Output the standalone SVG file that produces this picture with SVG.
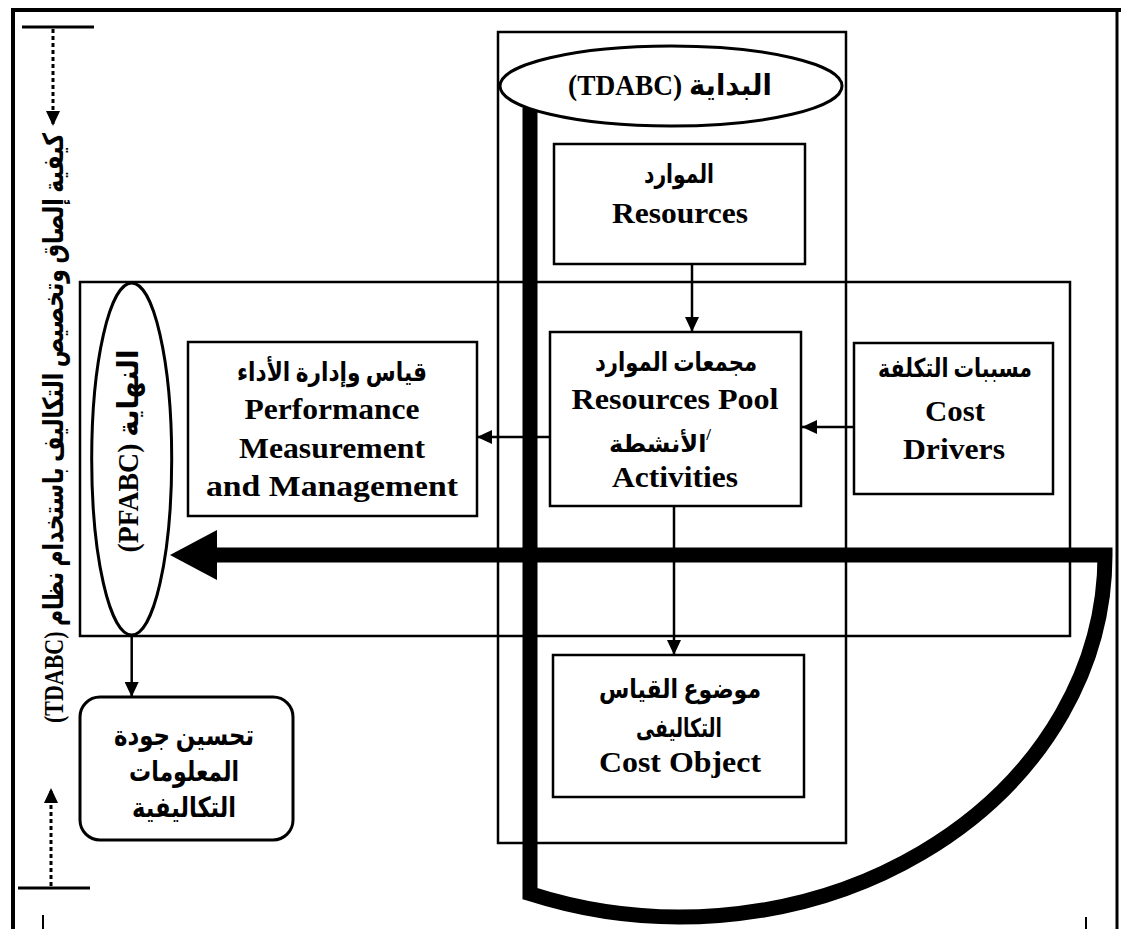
<svg xmlns="http://www.w3.org/2000/svg" width="1121" height="929" viewBox="0 0 1121 929">
<defs>
<style>
.frame{fill:none;stroke:#000;stroke-width:2.5}
.box{fill:#fff;stroke:#000;stroke-width:2.5}
.oval{fill:#fff;stroke:#000;stroke-width:3}
.t{font-family:"Liberation Serif","DejaVu Sans",serif;font-weight:bold;font-size:30px;text-anchor:middle;fill:#000}
.a{font-size:26px}
.ln{fill:none;stroke:#000;stroke-width:2.5}
.dot{fill:none;stroke:#000;stroke-width:3;stroke-dasharray:4 3}
.bar{fill:none;stroke:#000;stroke-width:3}
.thick{fill:none;stroke:#000;stroke-width:15;stroke-linejoin:miter}
</style>
<marker id="ah" viewBox="0 0 15 14" refX="15" refY="7" markerWidth="15" markerHeight="14" markerUnits="userSpaceOnUse" orient="auto"><path d="M0,0 L15,7 L0,14 z" fill="#000"/></marker>
</defs>
<rect width="1121" height="929" fill="#fff"/>

<g id="border">
<path d="M13,929 V10 H1121" fill="none" stroke="#000" stroke-width="4"/>
<path d="M1117,10 V929" fill="none" stroke="#000" stroke-width="3"/>
<path d="M43,915 V929 M1086,917 V929" fill="none" stroke="#000" stroke-width="2"/>
</g>

<g id="side-label">
<path class="bar" d="M22,27 H94 M18,888 H90"/>
<text class="t" transform="translate(53 428) rotate(-90)" style="font-size:28px" direction="rtl" dominant-baseline="central" textLength="590" lengthAdjust="spacingAndGlyphs">كيفية إلصاق وتخصيص التكاليف باستخدام نظام (TDABC)</text>
</g>

<g id="frames">
<rect class="frame" x="498" y="32" width="348" height="811"/>
<rect class="frame" x="80" y="282" width="990" height="354"/>
</g>

<g id="flow-path">
<path class="thick" d="M530,108 V893.7 A425,362 0 0 0 1105,555 H215"/>
<polygon points="170,555 217,530 217,580" fill="#000"/>
</g>

<g id="start">
<ellipse class="oval" cx="671" cy="86" rx="171" ry="40"/>
<text class="t" x="670" y="95" style="font-size:29px" direction="rtl" textLength="204" lengthAdjust="spacingAndGlyphs">البداية (TDABC)</text>
</g>

<g id="resources">
<rect class="box" x="554" y="144" width="251" height="120"/>
<text class="t a" x="679" y="183" textLength="70" lengthAdjust="spacingAndGlyphs">الموارد</text>
<text class="t" x="680" y="223" textLength="136" lengthAdjust="spacingAndGlyphs">Resources</text>
</g>

<g id="pool">
<rect class="box" x="550" y="332" width="251" height="174"/>
<text class="t a" x="676" y="371" textLength="162" lengthAdjust="spacingAndGlyphs">مجمعات الموارد</text>
<text class="t" x="675" y="409" textLength="207" lengthAdjust="spacingAndGlyphs">Resources Pool</text>
<text class="t" x="660" y="452" style="font-size:24px" direction="rtl"><tspan style="font-size:17px" baseline-shift="12">/</tspan>الأنشطة</text>
<text class="t" x="675" y="487" textLength="126" lengthAdjust="spacingAndGlyphs">Activities</text>
</g>

<g id="drivers">
<rect class="box" x="854" y="343" width="199" height="151"/>
<text class="t a" x="955" y="377" textLength="154" lengthAdjust="spacingAndGlyphs">مسببات التكلفة</text>
<text class="t" x="955" y="421" textLength="60" lengthAdjust="spacingAndGlyphs">Cost</text>
<text class="t" x="954" y="459" textLength="102" lengthAdjust="spacingAndGlyphs">Drivers</text>
</g>

<g id="performance">
<rect class="box" x="188" y="342" width="289" height="174"/>
<text class="t a" x="332" y="381" textLength="190" lengthAdjust="spacingAndGlyphs">قياس وإدارة الأداء</text>
<text class="t" x="332" y="419" textLength="175" lengthAdjust="spacingAndGlyphs">Performance</text>
<text class="t" x="332" y="458" textLength="186" lengthAdjust="spacingAndGlyphs">Measurement</text>
<text class="t" x="332" y="496" textLength="252" lengthAdjust="spacingAndGlyphs">and Management</text>
</g>

<g id="cost-object">
<rect class="box" x="553" y="655" width="251" height="142"/>
<text class="t a" x="680" y="698" textLength="162" lengthAdjust="spacingAndGlyphs">موضوع القياس</text>
<text class="t a" x="679" y="737" textLength="86" lengthAdjust="spacingAndGlyphs">التكاليفى</text>
<text class="t" x="680" y="772" textLength="162" lengthAdjust="spacingAndGlyphs">Cost Object</text>
</g>

<g id="end">
<ellipse class="oval" cx="131.7" cy="459" rx="40" ry="176"/>
<text class="t" transform="translate(128 451) rotate(-90)" style="font-size:29px" direction="rtl" dominant-baseline="central" textLength="203" lengthAdjust="spacingAndGlyphs">النهاية (PFABC)</text>
</g>

<g id="quality">
<rect class="oval" x="80" y="697" width="213" height="143" rx="20" ry="20"/>
<text class="t" x="184" y="745" style="font-size:28px" textLength="140" lengthAdjust="spacingAndGlyphs">تحسين جودة</text>
<text class="t" x="184" y="781" style="font-size:28px" textLength="110" lengthAdjust="spacingAndGlyphs">المعلومات</text>
<text class="t" x="184" y="817" style="font-size:28px" textLength="104" lengthAdjust="spacingAndGlyphs">التكاليفية</text>
</g>

<g id="connectors">
<path class="ln" d="M692,264 V332" marker-end="url(#ah)"/>
<path class="ln" d="M854,427 H802" marker-end="url(#ah)"/>
<path class="ln" d="M550,437 H477" marker-end="url(#ah)"/>
<path class="ln" d="M674,506 V655" marker-end="url(#ah)"/>
<path class="ln" d="M131.7,636 V697" marker-end="url(#ah)"/>
<path class="dot" d="M53,29 V126" marker-end="url(#ah)"/>
<path class="dot" d="M51,886 V788" marker-end="url(#ah)"/>
</g>
</svg>
